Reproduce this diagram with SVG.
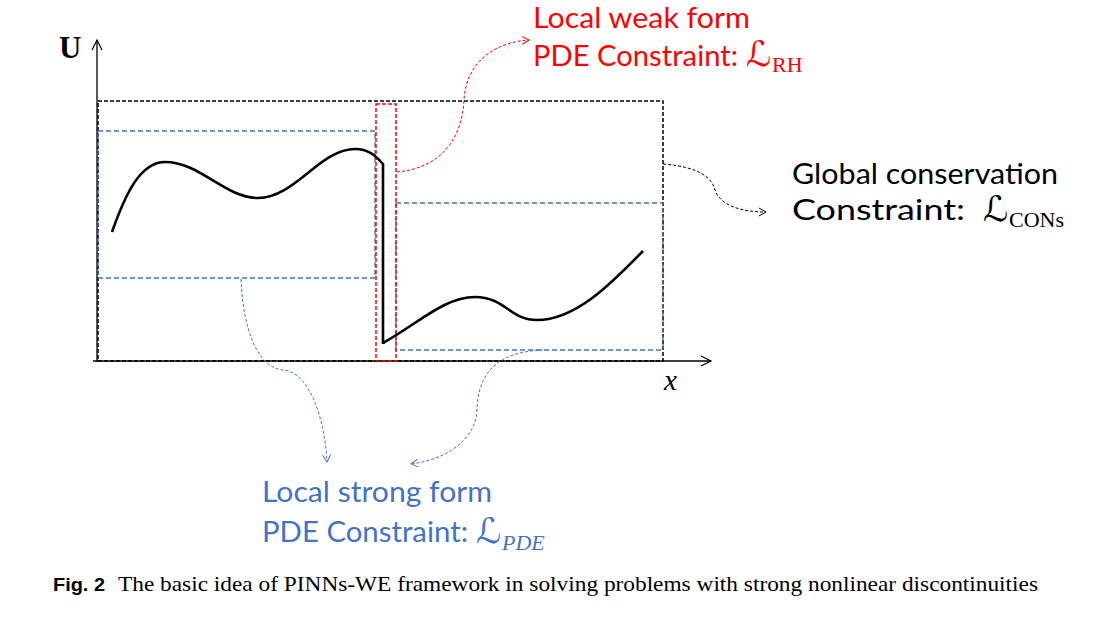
<svg xmlns="http://www.w3.org/2000/svg" width="1118" height="622" viewBox="0 0 1118 622">
<style>
.axis{stroke:#000;stroke-width:1.3;fill:none}
.curve{stroke:#000;stroke-width:2.6;fill:none;stroke-linejoin:miter}
.bk{stroke:#000;stroke-width:1.5;fill:none;stroke-dasharray:4 2}
.rd{stroke:#FF0000;stroke-width:1.5;fill:none;stroke-dasharray:4 2}
.bl{stroke:#4472C4;stroke-width:1.3;fill:none;stroke-dasharray:5 3}
.cr{stroke:#FF0000;stroke-width:1;fill:none;stroke-dasharray:3 2}
.ck{stroke:#000;stroke-width:1;fill:none;stroke-dasharray:3 2}
.cb{stroke:#4472C4;stroke-width:1;fill:none;stroke-dasharray:3 2}
.lab{font-family:Lato,"Open Sans","Liberation Sans",sans-serif;font-size:28px}
.sc{font-family:"DejaVu Serif","DejaVu Sans",serif;font-style:italic;font-size:35px}
.sub{font-family:"Liberation Serif",serif;font-size:22px}
</style>
<defs>
<marker id="ak" markerWidth="10" markerHeight="10" refX="8" refY="5" orient="auto" markerUnits="userSpaceOnUse"><path d="M1,1 L8,5 L1,9" fill="none" stroke="#000" stroke-width="1"/></marker>
<marker id="ar" markerWidth="10" markerHeight="10" refX="8" refY="5" orient="auto" markerUnits="userSpaceOnUse"><path d="M1,1 L8,5 L1,9" fill="none" stroke="#FF0000" stroke-width="1"/></marker>
<marker id="ab" markerWidth="10" markerHeight="10" refX="8" refY="5" orient="auto" markerUnits="userSpaceOnUse"><path d="M1,1 L8,5 L1,9" fill="none" stroke="#4472C4" stroke-width="1"/></marker>
<marker id="ax" markerWidth="14" markerHeight="14" refX="12" refY="7" orient="auto" markerUnits="userSpaceOnUse"><path d="M2,2 L12,7 L2,12" fill="none" stroke="#000" stroke-width="1.2"/></marker>
</defs>
<rect width="1118" height="622" fill="#fff"/>

<g id="axes">
<line class="axis" x1="97" y1="362" x2="97" y2="40" marker-end="url(#ax)"/>
<line class="axis" x1="93" y1="361" x2="711" y2="361" marker-end="url(#ax)"/>
<text x="59" y="58" font-family="'Liberation Serif',serif" font-weight="bold" font-size="31">U</text>
<text x="664" y="390" font-family="'Liberation Serif',serif" font-style="italic" font-size="29">x</text>
</g>

<g id="global-domain"><rect class="bk" x="98" y="101" width="565" height="260"/></g>
<g id="left-strong-region"><rect class="bl" x="98" y="131" width="277" height="147"/></g>
<g id="right-strong-region"><rect class="bl" x="396" y="203" width="267" height="147"/></g>
<g id="shock-weak-region"><rect class="rd" x="376" y="104" width="20" height="257"/></g>

<g id="solution">
<path class="curve" d="M112,232 C125,195 140,162 165,162 C200,162 225,198 258,198 C295,198 320,149 355,149 C368,149 375,155 383,164 L383,344"/>
<path class="curve" d="M383,343 C420,322 445,297 475,297 C505,297 510,320 537,320 C575,320 610,285 643,251"/>
</g>

<g id="connectors">
<path class="cr" d="M397,172 C440,168 462,140 464,100 C466,62 495,42 529,40" marker-end="url(#ar)"/>
<path class="ck" d="M663,164 C700,167 712,178 715,190 C720,205 740,212 766,212" marker-end="url(#ak)"/>
<path class="cb" d="M241,279 C243,330 258,368 283,370 C310,372 325,420 327,462" marker-end="url(#ab)"/>
<path class="cb" d="M543,350 C490,352 478,380 477,410 C476,440 445,460 411,464" marker-end="url(#ab)"/>
</g>

<g id="label-weak" fill="#FF0000">
<text class="lab" x="533" y="28" textLength="217" lengthAdjust="spacingAndGlyphs">Local weak form</text>
<text class="lab" x="533" y="66" textLength="205" lengthAdjust="spacingAndGlyphs">PDE Constraint:</text>
<text class="sc" x="746" y="66">ℒ</text>
<text class="sub" x="772" y="72">RH</text>
</g>

<g id="label-global" fill="#000">
<text class="lab" x="792" y="184" textLength="266" lengthAdjust="spacingAndGlyphs">Global conservation</text>
<text class="lab" x="792" y="220" textLength="173" lengthAdjust="spacingAndGlyphs">Constraint:</text>
<text class="sc" x="983" y="221">ℒ</text>
<text class="sub" x="1009" y="227">CONs</text>
</g>

<g id="label-strong" fill="#4472C4">
<text class="lab" x="262" y="502" textLength="230" lengthAdjust="spacingAndGlyphs">Local strong form</text>
<text class="lab" x="262" y="542" textLength="206" lengthAdjust="spacingAndGlyphs">PDE Constraint:</text>
<text class="sc" x="476" y="543">ℒ</text>
<text class="sub" x="502" y="550" font-style="italic">PDE</text>
</g>

<g id="caption">
<text x="53" y="591" font-family="'Liberation Sans',sans-serif" font-weight="bold" font-size="18" textLength="52" lengthAdjust="spacingAndGlyphs">Fig. 2</text>
<text x="118" y="591" font-family="'Liberation Serif',serif" font-size="21" textLength="920" lengthAdjust="spacingAndGlyphs">The basic idea of PINNs-WE framework in solving problems with strong nonlinear discontinuities</text>
</g>
</svg>
